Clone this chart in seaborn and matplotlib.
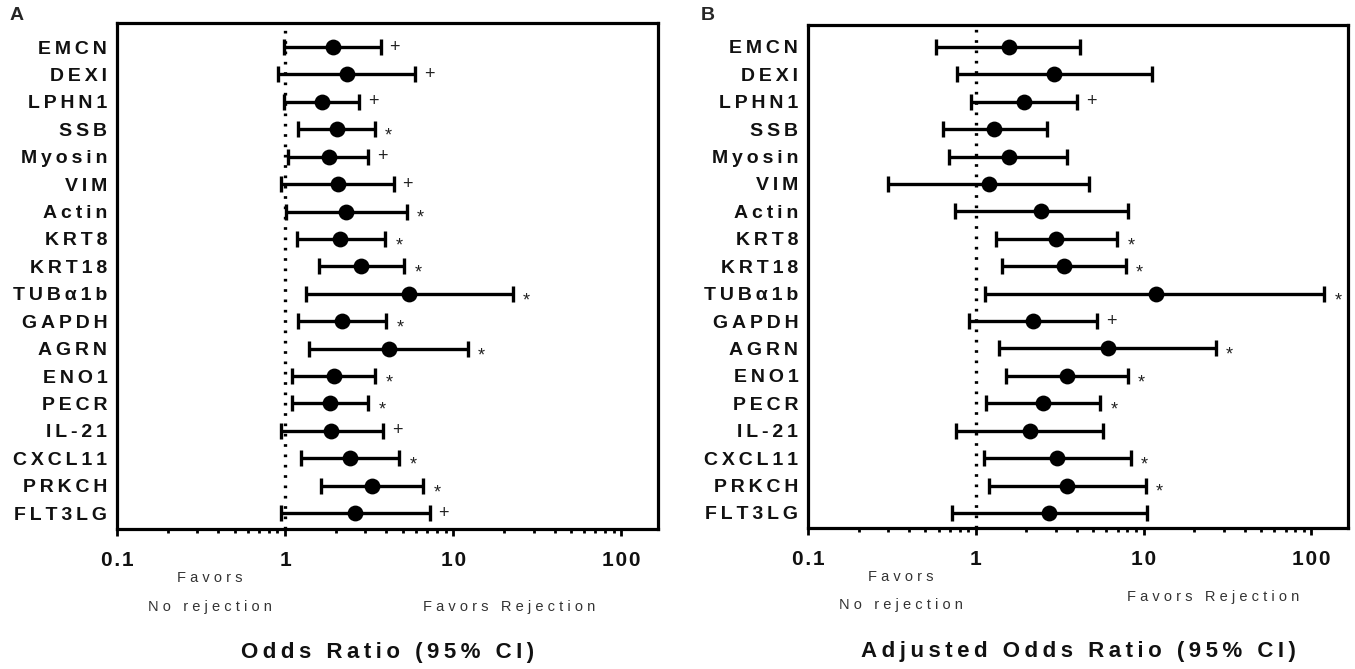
import numpy as np
import pandas as pd
import seaborn as sns
import matplotlib.pyplot as plt
from matplotlib.ticker import LogLocator, NullFormatter

# data
genes = ["EMCN", "DEXI", "LPHN1", "SSB", "Myosin", "VIM", "Actin", "KRT8", "KRT18",
         "TUBα1b", "GAPDH", "AGRN", "ENO1", "PECR", "IL-21", "CXCL11", "PRKCH", "FLT3LG"]

or_a = [1.93, 2.34, 1.66, 2.03, 1.82, 2.05, 2.31, 2.13, 2.83, 5.47, 2.17, 4.12, 1.94, 1.85, 1.87, 2.44, 3.30, 2.60]
lo_a = [0.99, 0.91, 0.99, 1.20, 1.04, 0.95, 1.01, 1.17, 1.58, 1.33, 1.20, 1.39, 1.10, 1.10, 0.94, 1.24, 1.64, 0.95]
hi_a = [3.71, 5.93, 2.75, 3.41, 3.12, 4.42, 5.28, 3.95, 5.09, 22.5, 3.98, 12.2, 3.43, 3.12, 3.84, 4.78, 6.64, 7.26]
sig_a = ["+", "+", "+", "*", "+", "+", "*", "*", "*", "*", "*", "*", "*", "*", "+", "*", "*", "+"]

or_b = [1.57, 2.94, 1.94, 1.29, 1.57, 1.20, 2.45, 3.01, 3.35, 11.8, 2.20, 6.11, 3.51, 2.52, 2.10, 3.06, 3.51, 2.74]
lo_b = [0.58, 0.77, 0.93, 0.64, 0.69, 0.30, 0.75, 1.31, 1.44, 1.13, 0.91, 1.38, 1.52, 1.15, 0.76, 1.12, 1.20, 0.72]
hi_b = [4.15, 11.2, 4.01, 2.67, 3.51, 4.75, 8.09, 6.95, 7.80, 119, 5.28, 26.9, 8.03, 5.53, 5.72, 8.37, 10.3, 10.4]
sig_b = ["", "", "+", "", "", "", "", "*", "*", "*", "+", "*", "*", "*", "", "*", "*", ""]

xticks = [0.1, 1, 10, 100]
xticklabels = ["0.1", "1", "10", "100"]

sns.set_theme(style="white")
plt.rcParams['font.family'] = ['Liberation Sans', 'DejaVu Sans']

THIN = "\u2009"
HAIR = "\u200a"


def spaced(s, sep=THIN):
    # GraphPad-style letter spacing
    return sep.join(s)


def draw(ax, orr, lo, hi, sig, xlabel, ylim, rej_x, rej_y):
    df = pd.DataFrame({"gene": genes, "or": orr, "lo": lo, "hi": hi, "sig": sig})
    df["pos"] = np.arange(len(df))

    ax.axvline(1, color="black", lw=2.4, ls=(0, (0.8, 2.3)), zorder=1)
    ax.errorbar(df["or"], df["pos"], xerr=[df["or"] - df["lo"], df["hi"] - df["or"]],
                fmt="none", ecolor="black", elinewidth=2.4, capsize=5.5, capthick=2.4, zorder=2)
    sns.scatterplot(data=df, x="or", y="pos", color="black", s=130, linewidth=0,
                    ax=ax, zorder=3, legend=False)

    for _, r in df.iterrows():
        if r["sig"] == "":
            continue
        dy = -5 if r["sig"] == "*" else 0
        ax.annotate(r["sig"], (r["hi"], r["pos"]), xytext=(10, dy), textcoords="offset points",
                    ha="center", va="center", fontsize=13, color="#222222")

    ax.set_xscale("log")
    ax.set_xlim(0.1, 165)
    ax.set_ylim(*ylim)
    ax.set_xticks(xticks, labels=[spaced(t, HAIR) for t in xticklabels])
    ax.xaxis.set_minor_locator(LogLocator(base=10, subs=range(2, 10)))
    ax.xaxis.set_minor_formatter(NullFormatter())
    ax.set_yticks(df["pos"], labels=[spaced(g) for g in genes])
    for t in ax.get_yticklabels():
        t.set_fontweight("bold")
        t.set_fontsize(14)
        t.set_color("#111111")
    for t in ax.get_xticklabels():
        t.set_fontweight("bold")
        t.set_fontsize(15)
        t.set_color("#111111")
    ax.tick_params(axis="y", length=0, pad=7)
    ax.tick_params(axis="x", which="major", bottom=True, length=5, width=2, color="black",
                   direction="out", pad=11)
    ax.tick_params(axis="x", which="minor", bottom=True, length=3, width=2, color="black",
                   direction="out")
    for sp in ax.spines.values():
        sp.set_color("black")
        sp.set_linewidth(2.3)
    ax.set_xlabel("")
    ax.set_ylabel("")

    tr = ax.get_xaxis_transform()
    ax.text(0.358, -0.097, spaced("Favors", " "), transform=tr, ha="center", va="center",
            fontsize=10.5, color="#333333")
    ax.text(0.358, -0.154, spaced("No rejection", " "), transform=tr, ha="center", va="center",
            fontsize=10.5, color="#333333")
    ax.text(rej_x, rej_y, spaced("Favors Rejection", " "), transform=tr, ha="center", va="center",
            fontsize=10.5, color="#333333")
    ax.text(0.5, -0.245, spaced(xlabel), transform=ax.transAxes, ha="center", va="center",
            fontsize=16, fontweight="bold", color="#111111")


fig = plt.figure(figsize=(13.55, 6.69), dpi=100)
ax_a = fig.add_axes([117 / 1355, 140 / 669, 541 / 1355, 506 / 669])
ax_b = fig.add_axes([808 / 1355, 141 / 669, 540 / 1355, 503 / 669])

draw(ax_a, or_a, lo_a, hi_a, sig_a, "Odds Ratio (95% CI)", (17.58, -0.876), 21.5, -0.154)
draw(ax_b, or_b, lo_b, hi_b, sig_b, "Adjusted Odds Ratio (95% CI)", (17.55, -0.80), 26.0, -0.138)

fig.text(10 / 1355, 1 - 15 / 669, "A", fontsize=14, fontweight="bold", va="center", ha="left")
fig.text(701 / 1355, 1 - 15 / 669, "B", fontsize=14, fontweight="bold", va="center", ha="left")

fig.savefig("out.png", dpi=100)
